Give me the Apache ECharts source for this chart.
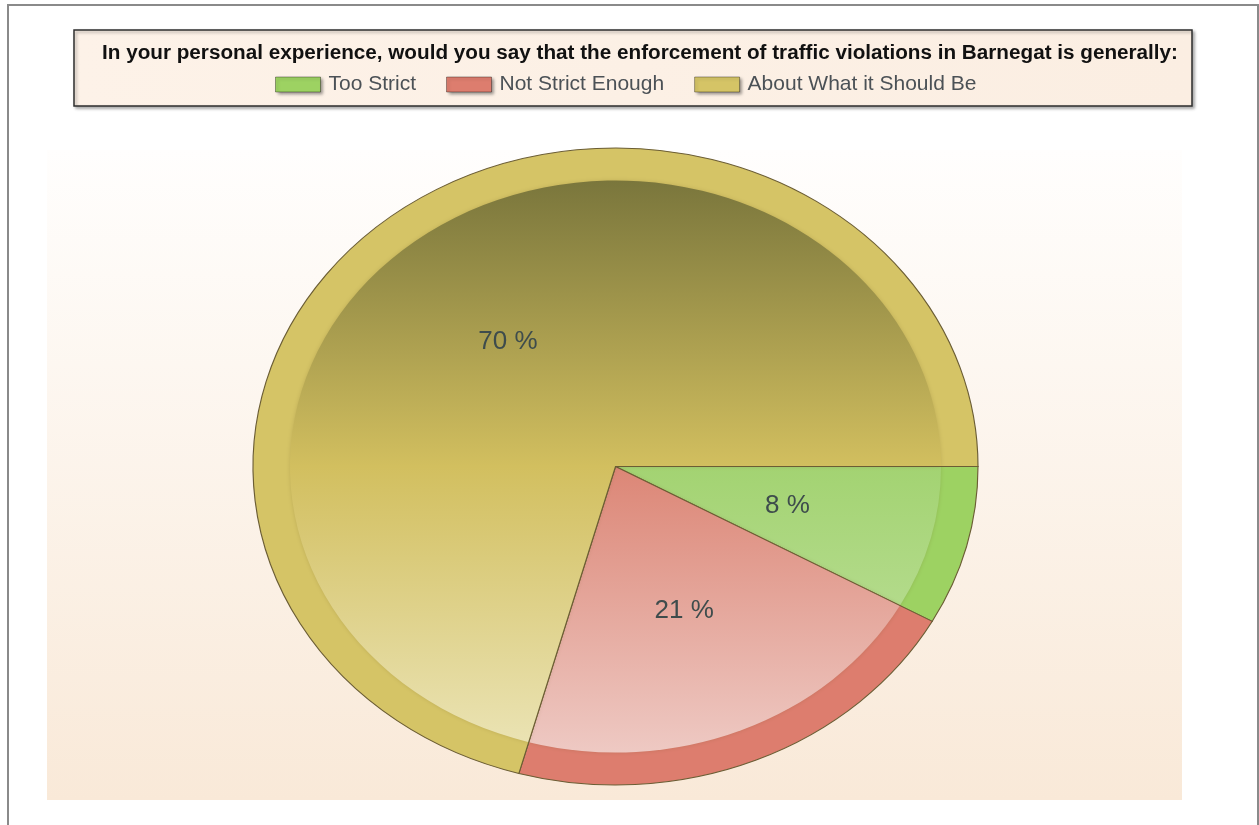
<!DOCTYPE html>
<html>
<head>
<meta charset="utf-8">
<title>Traffic enforcement survey</title>
<script src="https://cdn.jsdelivr.net/npm/echarts@6/dist/echarts.min.js"></script>
<style>
  html, body { margin: 0; padding: 0; background: #ffffff; }
  #chart { width: 1259px; height: 825px; }
</style>
</head>
<body>
<div id="chart"></div>
<script>
// Survey question and answers
const titleText = 'In your personal experience, would you say that the enforcement of traffic violations in Barnegat is generally:';
const categories = ['Too Strict', 'Not Strict Enough', 'About What it Should Be'];
const percentages = [8, 21, 70];

// Slice styling: flat rim colour and a top/middle/bottom shading for the face
const rimColors = ['#9dd262', '#dd7d6e', '#d5c466'];
const faceShades = [
  ['#6f9c44', '#a3d372', '#c4e3a5'],
  ['#a4544a', '#dc8676', '#eec9c3'],
  ['#7a763c', '#d2bf5f', '#ebe4b6']
];

// Pie geometry (drawn as an ellipse: vertical radius stretched horizontally)
const CX = 615.5, CY = 466.5, RY = 318.5, RX = 362.5;
const FACE_RATIO = 0.898;
const LABEL_RATIO = 0.49;

const chart = echarts.init(document.getElementById('chart'), null, { renderer: 'canvas' });

function sliceRenderer(idx) {
  return function (params, api) {
    const total = percentages.reduce((a, b) => a + b, 0);
    const before = percentages.slice(0, idx).reduce((a, b) => a + b, 0);
    const v = api.value(0);
    const a0 = before / total * Math.PI * 2;
    const a1 = (before + v) / total * Math.PI * 2;
    const mid = (a0 + a1) / 2;
    const stretch = RX / RY;
    const shade = faceShades[idx];
    const faceR = RY * FACE_RATIO;
    const faceFill = new echarts.graphic.LinearGradient(0, CY - faceR, 0, CY + faceR, [
      { offset: 0, color: shade[0] },
      { offset: 0.5, color: shade[1] },
      { offset: 1, color: shade[2] }
    ], true);
    const common = { scaleX: stretch, scaleY: 1, originX: CX, originY: CY };
    return {
      type: 'group',
      children: [
        Object.assign({
          type: 'sector',
          shape: { cx: CX, cy: CY, r: RY, r0: 0, startAngle: a0, endAngle: a1, clockwise: true },
          style: { fill: rimColors[idx] }
        }, common),
        Object.assign({
          type: 'sector',
          shape: { cx: CX, cy: CY, r: faceR, r0: 0, startAngle: a0, endAngle: a1, clockwise: true },
          style: { fill: faceFill, shadowBlur: 4, shadowColor: 'rgba(90,70,20,0.18)' }
        }, common),
        Object.assign({
          type: 'sector',
          shape: { cx: CX, cy: CY, r: RY, r0: 0, startAngle: a0, endAngle: a1, clockwise: true },
          style: { fill: 'none', stroke: '#6b5d34', lineWidth: 1 }
        }, common),
        {
          type: 'text',
          x: CX + Math.cos(mid) * RX * LABEL_RATIO,
          y: CY + Math.sin(mid) * RY * LABEL_RATIO,
          style: {
            text: v + ' %',
            fill: '#3e4c4c',
            fontSize: 26,
            fontFamily: '"Liberation Sans", Arial, sans-serif',
            align: 'center',
            verticalAlign: 'middle'
          }
        }
      ]
    };
  };
}

const series = categories.map((name, i) => ({
  name: name,
  type: 'custom',
  coordinateSystem: 'none',
  itemStyle: { color: rimColors[i] },
  renderItem: sliceRenderer(i),
  data: [[percentages[i]]],
  silent: true
}));

const option = {
  animation: false,
  backgroundColor: '#ffffff',
  graphic: [
    {
      type: 'rect', z: -10,
      shape: { x: 8, y: 5, width: 1250, height: 840 },
      style: { fill: '#ffffff', stroke: '#8a8a8a', lineWidth: 2 }
    },
    {
      type: 'rect', z: -9,
      shape: { x: 47, y: 150, width: 1135, height: 650 },
      style: {
        fill: new echarts.graphic.LinearGradient(0, 0, 0, 1, [
          { offset: 0, color: '#fffefd' },
          { offset: 1, color: '#f9e9d8' }
        ])
      }
    },
    {
      type: 'rect', z: -8,
      shape: { x: 74, y: 30, width: 1118, height: 76 },
      style: {
        fill: new echarts.graphic.LinearGradient(0, 0, 1, 0, [
          { offset: 0, color: '#fdf2e8' },
          { offset: 1, color: '#fbeee2' }
        ]),
        stroke: '#2e2e2e', lineWidth: 1.5,
        shadowColor: 'rgba(0,0,0,0.3)', shadowBlur: 3, shadowOffsetX: 2, shadowOffsetY: 2
      }
    }
  ],
  title: {
    text: titleText,
    left: 640,
    textAlign: 'center',
    top: 43,
    padding: 0,
    textStyle: {
      fontSize: 20.7,
      fontWeight: 'bold',
      color: '#111111',
      fontFamily: '"Liberation Sans", Arial, sans-serif'
    }
  },
  legend: {
    data: categories,
    left: 275,
    top: 74,
    padding: 0,
    itemWidth: 45,
    itemHeight: 15,
    itemGap: 30,
    icon: 'rect',
    selectedMode: false,
    itemStyle: {
      borderColor: 'rgba(0,0,0,0.35)', borderWidth: 1,
      shadowColor: 'rgba(0,0,0,0.4)', shadowBlur: 3, shadowOffsetX: 2, shadowOffsetY: 2
    },
    textStyle: {
      fontSize: 21,
      color: '#4b5156',
      fontFamily: '"Liberation Sans", Arial, sans-serif',
      padding: [0, 0, 0, 3]
    }
  },
  series: series
};

chart.setOption(option);
</script>
</body>
</html>
